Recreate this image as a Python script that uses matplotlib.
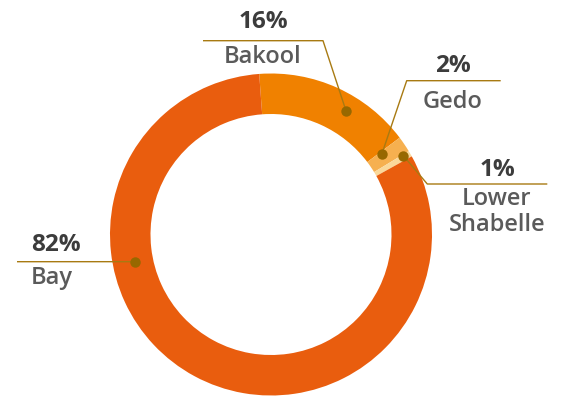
import numpy as np
import matplotlib
matplotlib.use('Agg')
import matplotlib.pyplot as plt

# data (clockwise from just left of 12 o'clock)
regions = ['Bakool', 'Gedo', 'Lower\nShabelle', 'Bay']
shares = [15.9, 1.6, 0.6, 81.9]
pct_labels = ['16%', '2%', '1%', '82%']
colors = ['#F08100', '#F6B050', '#FAD89A', '#E95D0E']

W, H = 588, 405
CX, CY = 271, H - 234.5
R_OUT, R_IN = 161, 120.5

fig = plt.figure(figsize=(W / 100, H / 100), dpi=100)
ax = fig.add_axes([0, 0, 1, 1])
ax.pie(shares, colors=colors, center=(CX, CY), radius=R_OUT,
       startangle=94.2, counterclock=False,
       wedgeprops=dict(width=R_OUT - R_IN, edgecolor='none', linewidth=0))
ax.set_xlim(0, W)
ax.set_ylim(0, H)
ax.set_aspect('equal')
ax.axis('off')

# label layout: dot (clockwise angle from top, radius), leader path, text
layout = {
    'Bakool': dict(ang=31.3, r=144.5, path=[(323, 40.7), (203, 40.7)],
                   tx=263, ha='center', py=22, ny=57),
    'Gedo': dict(ang=54.1, r=136.7, path=[(406.7, 80.7), (500.7, 80.7)],
                 tx=453, ha='center', py=66, ny=101.5),
    'Lower\nShabelle': dict(ang=59.2, r=154, path=[(427.3, 184), (547.3, 184)],
                            tx=497, ha='center', py=170.5, ny=212),
    'Bay': dict(ang=258.7, r=138.7, path=[(17, 261.7)],
                tx=31, ha='left', py=245, ny=278),
}

line_c = '#A87A12'
dot_c = '#976800'
for name, pct in zip(regions, pct_labels):
    L = layout[name]
    th = np.deg2rad(L['ang'])
    dx, dy = CX + L['r'] * np.sin(th), CY + L['r'] * np.cos(th)
    xs = [dx] + [p[0] for p in L['path']]
    ys = [dy] + [H - p[1] for p in L['path']]
    ax.plot(xs, ys, color=line_c, lw=1.0, solid_capstyle='butt', zorder=3)
    ax.plot(dx, dy, 'o', ms=7.5, color=dot_c, mec='none', zorder=4)
    ax.text(L['tx'], H - L['py'], pct, ha=L['ha'], va='center',
            fontsize=17.5, fontweight='bold', color='#3C3C3C', family='Open Sans')
    ax.text(L['tx'], H - L['ny'], name, ha=L['ha'], va='center',
            fontsize=17, fontweight='semibold', color='#5A5A5A', family='Open Sans',
            linespacing=1.12)

fig.savefig('out.png', dpi=100)
